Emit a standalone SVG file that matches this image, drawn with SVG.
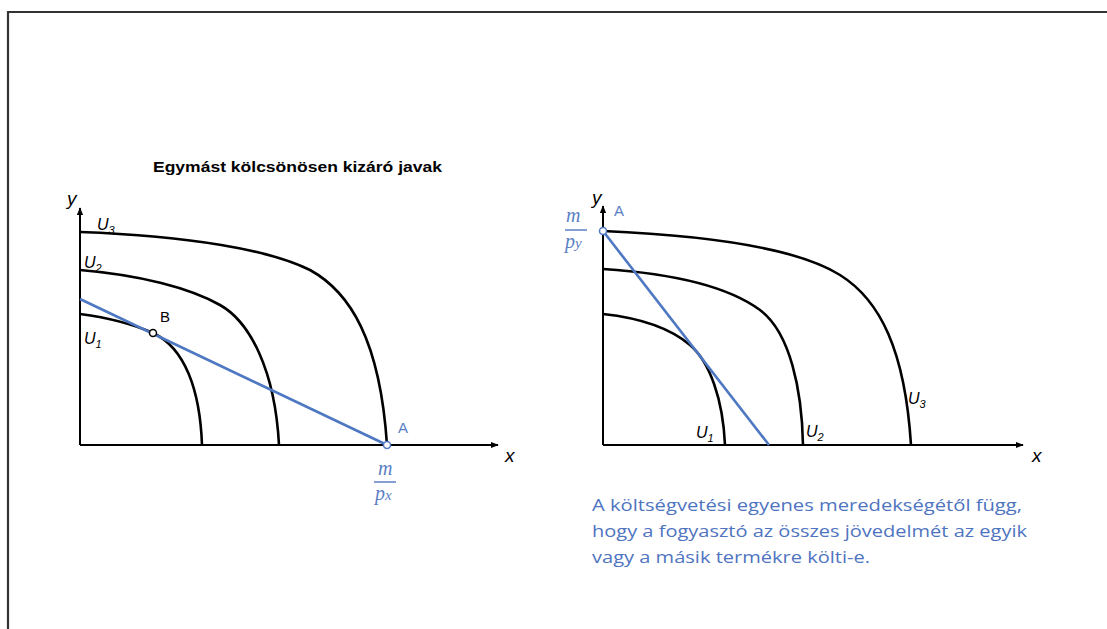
<svg xmlns="http://www.w3.org/2000/svg" width="1107" height="629" viewBox="0 0 1107 629">
<style>
.axis{stroke:#000;stroke-width:2;fill:none}
.curve{stroke:#000;stroke-width:2.6;fill:none}
.budget{stroke:#4f78c2;stroke-width:2.6;fill:none}
.pt{fill:#fff;stroke:#4f78c2;stroke-width:1.5}
.pt2{fill:#fff;stroke:#000;stroke-width:1.5}
.ax{font-family:"Liberation Sans",Arial,sans-serif;font-style:italic;font-size:19px;fill:#000}
.u{font-family:"Liberation Sans",Arial,sans-serif;font-style:italic;font-size:16px;fill:#000}
.sub{font-size:11px}
.pl{font-family:"Liberation Sans",Arial,sans-serif;font-size:15px;fill:#000}
.plb{font-family:"Liberation Sans",Arial,sans-serif;font-size:15px;fill:#5a7fc4}
.frac{font-family:"Liberation Serif","Times New Roman",serif;font-style:italic;font-size:20px;fill:#5a7fc4}
.fl{stroke:#5a7fc4;stroke-width:1.5}
.title{font-family:"Liberation Sans",Arial,sans-serif;font-weight:bold;font-size:15px;fill:#000}
.body{font-family:"Open Sans","Noto Sans",sans-serif;font-size:17px;fill:#4f74bf}
</style>
<defs>
<marker id="arr" viewBox="0 0 10 10" refX="9" refY="5" markerWidth="8" markerHeight="8" markerUnits="userSpaceOnUse" orient="auto">
<path d="M0,1 L10,5 L0,9 Z" fill="#000"/>
</marker>
</defs>
<rect width="1107" height="629" fill="#fff"/>
<path d="M8,629 L8,12 L1107,12" stroke="#333" stroke-width="2.2" fill="none"/>

<text class="title" x="153" y="172" textLength="289" lengthAdjust="spacingAndGlyphs">Egymást kölcsönösen kizáró javak</text>

<g id="left-chart">
<g id="left-axes">
<line class="axis" x1="80" y1="445" x2="80" y2="208" marker-end="url(#arr)"/>
<line class="axis" x1="80" y1="445" x2="498" y2="445" marker-end="url(#arr)"/>
<text class="ax" x="67" y="205">y</text>
<text class="ax" x="505" y="462">x</text>
</g>
<g id="left-curves">
<path class="curve" d="M80,232 C190,236 270,250 310,270 C350,292 380,340 387,445"/>
<path class="curve" d="M80,270 C140,275 190,288 220,305 C250,322 275,370 279,445"/>
<path class="curve" d="M80,314 C110,318 135,325 153,333 C185,348 200,390 202,445"/>
</g>
<line class="budget" x1="80" y1="299" x2="387" y2="445"/>
<circle class="pt2" cx="153" cy="333" r="3.5"/>
<circle class="pt" cx="387" cy="445" r="3.5"/>
<text class="u" x="97" y="230">U<tspan class="sub" dy="4">3</tspan></text>
<text class="u" x="84" y="268">U<tspan class="sub" dy="4">2</tspan></text>
<text class="u" x="84" y="344">U<tspan class="sub" dy="4">1</tspan></text>
<text class="pl" x="160" y="322">B</text>
<text class="plb" x="398" y="433">A</text>
<text class="frac" x="378" y="475">m</text>
<line class="fl" x1="374" y1="482" x2="396" y2="482"/>
<text class="frac" x="375" y="500">p<tspan font-size="15">x</tspan></text>
</g>

<g id="right-chart">
<g id="right-axes">
<line class="axis" x1="603" y1="445" x2="603" y2="206" marker-end="url(#arr)"/>
<line class="axis" x1="603" y1="445" x2="1023" y2="445" marker-end="url(#arr)"/>
<text class="ax" x="592" y="204">y</text>
<text class="ax" x="1032" y="462">x</text>
</g>
<g id="right-curves">
<path class="curve" d="M603,231 C720,236 800,250 840,275 C880,300 905,350 911,445"/>
<path class="curve" d="M603,269 C680,274 730,288 760,310 C790,332 802,390 803,445"/>
<path class="curve" d="M603,314 C640,318 670,328 690,345 C710,362 723,400 725,445"/>
</g>
<line class="budget" x1="603" y1="231" x2="769" y2="445"/>
<circle class="pt" cx="603" cy="231" r="3.5"/>
<text class="plb" x="614" y="216">A</text>
<text class="frac" x="566" y="222">m</text>
<line class="fl" x1="565" y1="230" x2="587" y2="230"/>
<text class="frac" x="565" y="248">p<tspan font-size="15">y</tspan></text>
<text class="u" x="908" y="404">U<tspan class="sub" dy="4">3</tspan></text>
<text class="u" x="806" y="437">U<tspan class="sub" dy="4">2</tspan></text>
<text class="u" x="696" y="438">U<tspan class="sub" dy="4">1</tspan></text>
</g>

<g id="note">
<text class="body" x="592" y="511" textLength="430" lengthAdjust="spacingAndGlyphs">A költségvetési egyenes meredekségétől függ,</text>
<text class="body" x="592" y="537" textLength="435" lengthAdjust="spacingAndGlyphs">hogy a fogyasztó az összes jövedelmét az egyik</text>
<text class="body" x="592" y="563" textLength="278" lengthAdjust="spacingAndGlyphs">vagy a másik termékre költi-e.</text>
</g>
</svg>
